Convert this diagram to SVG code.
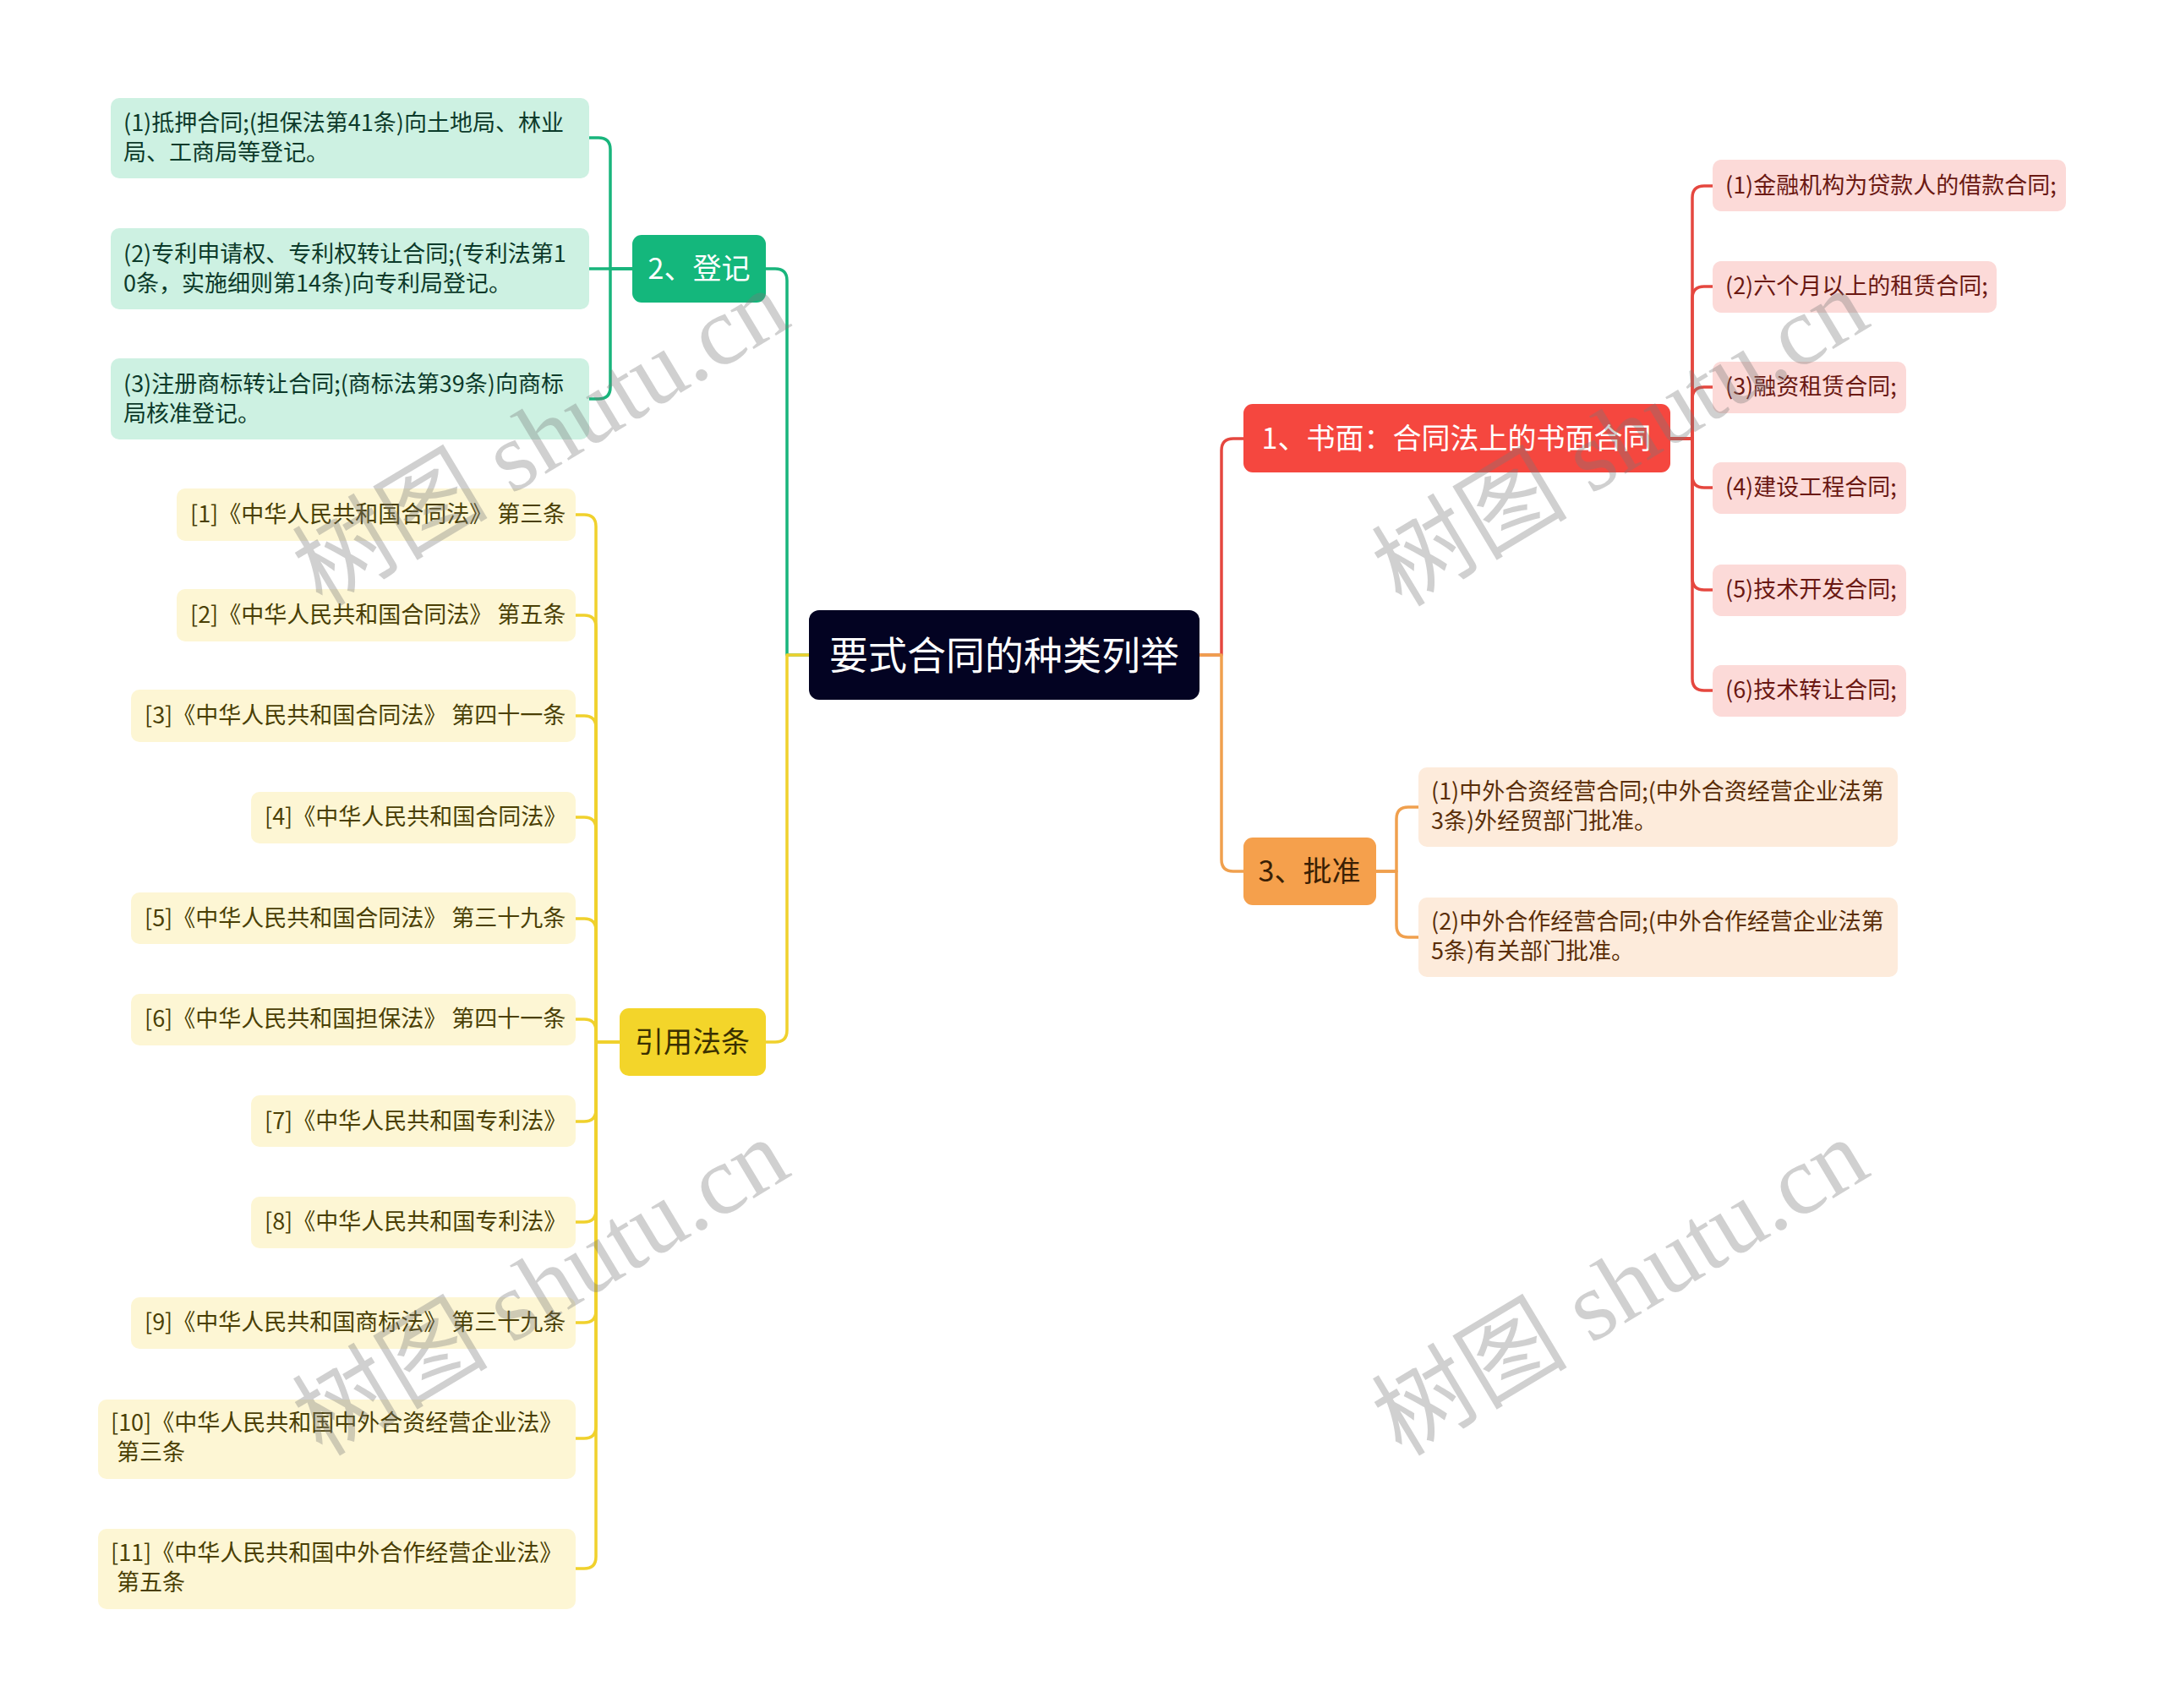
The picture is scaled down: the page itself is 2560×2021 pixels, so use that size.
<svg xmlns="http://www.w3.org/2000/svg" width="2560" height="2021" viewBox="0 0 2560 2021">
<style>
text{font-family:"Noto Sans CJK SC","Microsoft YaHei","Liberation Sans",sans-serif}
.c{fill:none;stroke-width:3.5;stroke-linecap:round;stroke-linejoin:round}
.cr{stroke:#e5473f}.cg{stroke:#19b57c}.co{stroke:#f0a04e}.cy{stroke:#f0d12d}
.lt{font-size:27px}
.rl{fill:#fcdad8}.gl{fill:#cdf1e2}.ol{fill:#fdebdb}.yl{fill:#fdf6d4}
.rt{fill:#6a1812}.gt{fill:#0c3a2a}.ot{fill:#5a2e08}.yt{fill:#4a3f05}
.m{font-size:34px;text-anchor:middle}
.wm{font-family:"Liberation Serif","Noto Sans CJK SC",serif;font-size:116px;fill:#7a7a7a;opacity:0.35;text-anchor:middle}
</style>
<rect width="2560" height="2021" fill="#ffffff"/>
<g id="connectors">
<path class="c cr" d="M1419,775 H1445 V533 Q1445,519 1459,519 H1471"/>
<path class="c co" d="M1419,775 H1445 V1017 Q1445,1031 1459,1031 H1471"/>
<path class="c cg" d="M957,775 H931 V332 Q931,318 917,318 H906"/>
<path class="c cy" d="M957,775 H931 V1219 Q931,1233 917,1233 H906"/>
<path class="c cr" d="M1976,519 H2002 V234 Q2002,220 2016,220 H2026"/>
<path class="c cr" d="M1976,519 H2002 V353 Q2002,339 2016,339 H2026"/>
<path class="c cr" d="M1976,519 H2002 V472 Q2002,458 2016,458 H2026"/>
<path class="c cr" d="M1976,519 H2002 V563 Q2002,577 2016,577 H2026"/>
<path class="c cr" d="M1976,519 H2002 V684 Q2002,698 2016,698 H2026"/>
<path class="c cr" d="M1976,519 H2002 V803 Q2002,817 2016,817 H2026"/>
<path class="c cg" d="M748,318 H722 V177 Q722,163 708,163 H697"/>
<path class="c cg" d="M748,318 H697"/>
<path class="c cg" d="M748,318 H722 V458 Q722,472 708,472 H697"/>
<path class="c co" d="M1628,1031 H1652 V969 Q1652,955 1666,955 H1678"/>
<path class="c co" d="M1628,1031 H1652 V1095 Q1652,1109 1666,1109 H1678"/>
<path class="c cy" d="M733,1233 H705 V623 Q705,609 691,609 H681"/>
<path class="c cy" d="M733,1233 H705 V742 Q705,728 691,728 H681"/>
<path class="c cy" d="M733,1233 H705 V861 Q705,847 691,847 H681"/>
<path class="c cy" d="M733,1233 H705 V981 Q705,967 691,967 H681"/>
<path class="c cy" d="M733,1233 H705 V1101 Q705,1087 691,1087 H681"/>
<path class="c cy" d="M733,1233 H705 V1220 Q705,1206 691,1206 H681"/>
<path class="c cy" d="M733,1233 H705 V1313 Q705,1327 691,1327 H681"/>
<path class="c cy" d="M733,1233 H705 V1432 Q705,1446 691,1446 H681"/>
<path class="c cy" d="M733,1233 H705 V1551 Q705,1565 691,1565 H681"/>
<path class="c cy" d="M733,1233 H705 V1688 Q705,1702 691,1702 H681"/>
<path class="c cy" d="M733,1233 H705 V1842 Q705,1856 691,1856 H681"/>
</g>
<g id="root">
<rect x="957" y="722" width="462" height="106" rx="12" fill="#030322"/>
<text x="1188" y="792" font-size="46" fill="#ffffff" text-anchor="middle">要式合同的种类列举</text>
</g>
<g id="n1">
<rect x="1471" y="478" width="505" height="81" rx="11" fill="#f5473f"/>
<text class="m" x="1723" y="531" fill="#ffffff">1、书面：合同法上的书面合同</text>
</g>
<g id="n2">
<rect x="748" y="278" width="158" height="80" rx="11" fill="#14b77c"/>
<text class="m" x="827" y="330" fill="#ffffff">2、登记</text>
</g>
<g id="n3">
<rect x="1471" y="991" width="157" height="80" rx="11" fill="#f5a04c"/>
<text class="m" x="1549" y="1043" fill="#3a1f05">3、批准</text>
</g>
<g id="n4">
<rect x="733" y="1193" width="173" height="80" rx="11" fill="#f3d52a"/>
<text class="m" x="819" y="1245" fill="#3a3000">引用法条</text>
</g>
<g id="r1"><rect class="rl" x="2026" y="189" width="418" height="61" rx="10"/><text class="lt rt" x="2041" y="229">(1)金融机构为贷款人的借款合同;</text></g>
<g id="r2"><rect class="rl" x="2026" y="309" width="336" height="61" rx="10"/><text class="lt rt" x="2041" y="348">(2)六个月以上的租赁合同;</text></g>
<g id="r3"><rect class="rl" x="2026" y="428" width="229" height="61" rx="10"/><text class="lt rt" x="2041" y="467">(3)融资租赁合同;</text></g>
<g id="r4"><rect class="rl" x="2026" y="547" width="229" height="61" rx="10"/><text class="lt rt" x="2041" y="586">(4)建设工程合同;</text></g>
<g id="r5"><rect class="rl" x="2026" y="668" width="229" height="61" rx="10"/><text class="lt rt" x="2041" y="707">(5)技术开发合同;</text></g>
<g id="r6"><rect class="rl" x="2026" y="787" width="229" height="61" rx="10"/><text class="lt rt" x="2041" y="826">(6)技术转让合同;</text></g>
<g id="g1"><rect class="gl" x="131" y="116" width="566" height="95" rx="10"/><text class="lt gt" x="146" y="155">(1)抵押合同;(担保法第41条)向土地局、林业</text><text class="lt gt" x="146" y="190">局、工商局等登记。</text></g>
<g id="g2"><rect class="gl" x="131" y="270" width="566" height="96" rx="10"/><text class="lt gt" x="146" y="310">(2)专利申请权、专利权转让合同;(专利法第1</text><text class="lt gt" x="146" y="345">0条，实施细则第14条)向专利局登记。</text></g>
<g id="g3"><rect class="gl" x="131" y="424" width="566" height="96" rx="10"/><text class="lt gt" x="146" y="464">(3)注册商标转让合同;(商标法第39条)向商标</text><text class="lt gt" x="146" y="499">局核准登记。</text></g>
<g id="o1"><rect class="ol" x="1678" y="908" width="567" height="94" rx="10"/><text class="lt ot" x="1693" y="946">(1)中外合资经营合同;(中外合资经营企业法第</text><text class="lt ot" x="1693" y="981">3条)外经贸部门批准。</text></g>
<g id="o2"><rect class="ol" x="1678" y="1062" width="567" height="94" rx="10"/><text class="lt ot" x="1693" y="1100">(2)中外合作经营合同;(中外合作经营企业法第</text><text class="lt ot" x="1693" y="1135">5条)有关部门批准。</text></g>
<g id="y1"><rect class="yl" x="209" y="578" width="472" height="62" rx="10"/><text class="lt yt" x="225" y="618">[1]《中华人民共和国合同法》 第三条</text></g>
<g id="y2"><rect class="yl" x="209" y="697" width="472" height="62" rx="10"/><text class="lt yt" x="225" y="737">[2]《中华人民共和国合同法》 第五条</text></g>
<g id="y3"><rect class="yl" x="155" y="816" width="526" height="62" rx="10"/><text class="lt yt" x="171" y="856">[3]《中华人民共和国合同法》 第四十一条</text></g>
<g id="y4"><rect class="yl" x="297" y="937" width="384" height="61" rx="10"/><text class="lt yt" x="313" y="976">[4]《中华人民共和国合同法》</text></g>
<g id="y5"><rect class="yl" x="155" y="1056" width="526" height="61" rx="10"/><text class="lt yt" x="171" y="1096">[5]《中华人民共和国合同法》 第三十九条</text></g>
<g id="y6"><rect class="yl" x="155" y="1176" width="526" height="61" rx="10"/><text class="lt yt" x="171" y="1215">[6]《中华人民共和国担保法》 第四十一条</text></g>
<g id="y7"><rect class="yl" x="297" y="1296" width="384" height="61" rx="10"/><text class="lt yt" x="313" y="1336">[7]《中华人民共和国专利法》</text></g>
<g id="y8"><rect class="yl" x="297" y="1416" width="384" height="61" rx="10"/><text class="lt yt" x="313" y="1455">[8]《中华人民共和国专利法》</text></g>
<g id="y9"><rect class="yl" x="155" y="1535" width="526" height="61" rx="10"/><text class="lt yt" x="171" y="1574">[9]《中华人民共和国商标法》 第三十九条</text></g>
<g id="y10"><rect class="yl" x="116" y="1656" width="565" height="94" rx="10"/><text class="lt yt" x="131" y="1693">[10]《中华人民共和国中外合资经营企业法》</text><text class="lt yt" x="138" y="1728">第三条</text></g>
<g id="y11"><rect class="yl" x="116" y="1809" width="565" height="95" rx="10"/><text class="lt yt" x="131" y="1847">[11]《中华人民共和国中外合作经营企业法》</text><text class="lt yt" x="138" y="1882">第五条</text></g>
<g id="watermarks">
<text class="wm" transform="translate(660,552) rotate(-31)">树图 shutu.cn</text>
<text class="wm" transform="translate(1937,552) rotate(-31)">树图 shutu.cn</text>
<text class="wm" transform="translate(660,1557) rotate(-31)">树图 shutu.cn</text>
<text class="wm" transform="translate(1937,1557) rotate(-31)">树图 shutu.cn</text>
</g>
</svg>
